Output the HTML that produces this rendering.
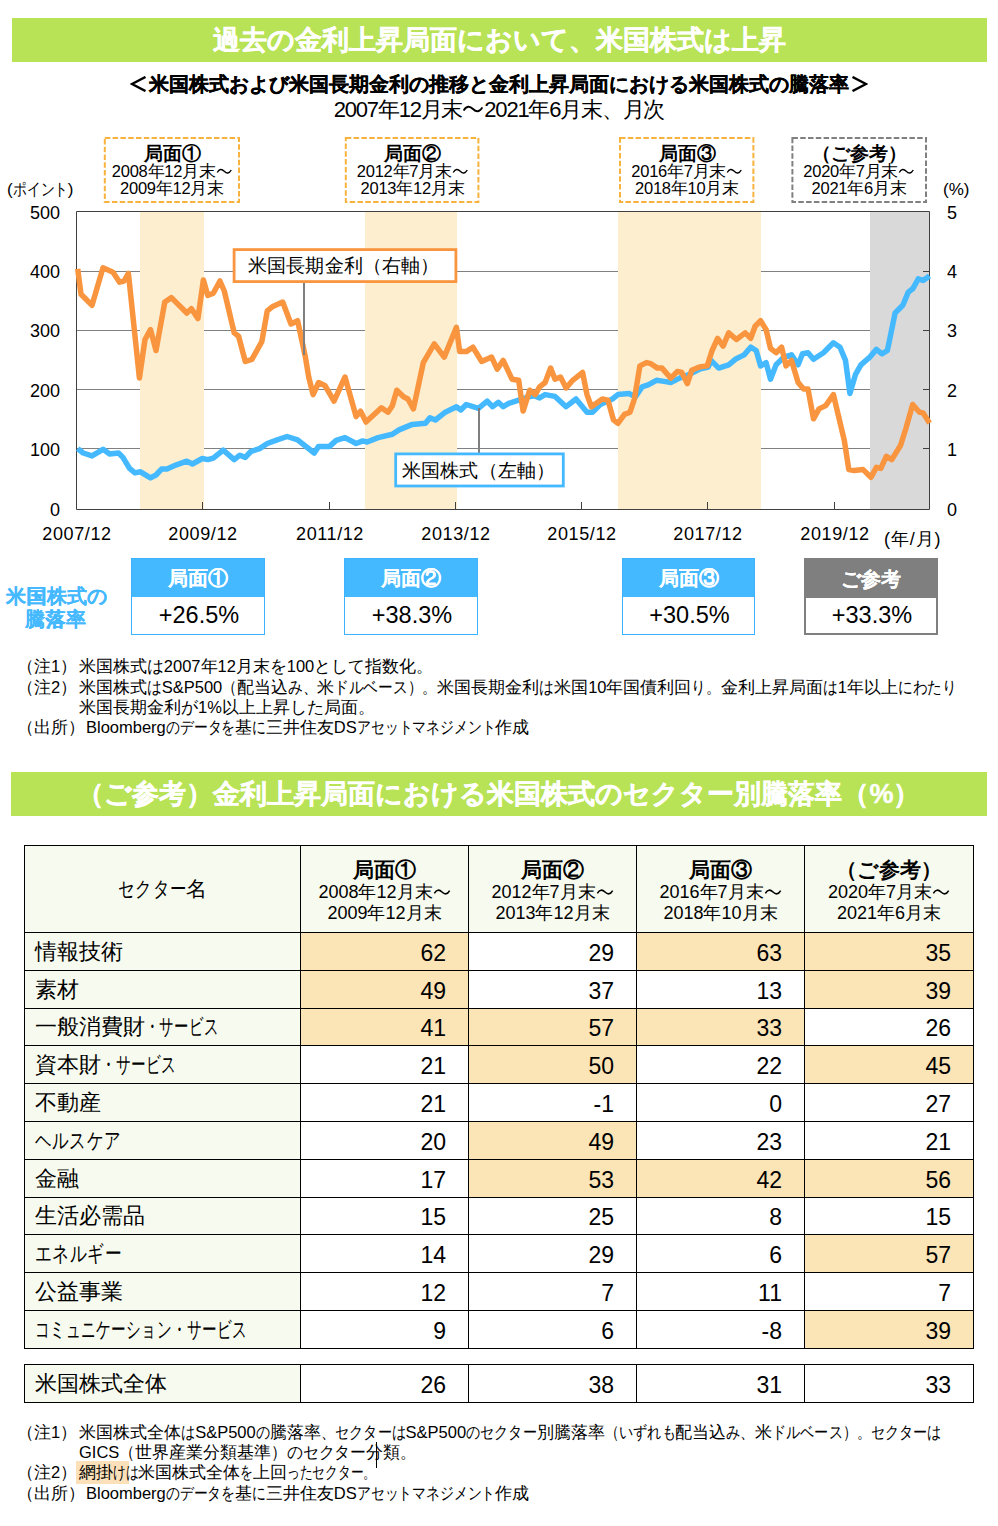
<!DOCTYPE html>
<html lang="ja"><head>
<meta charset="utf-8">
<style>
html,body{margin:0;padding:0;background:#fff;}
body{width:998px;height:1526px;position:relative;overflow:hidden;font-family:"Liberation Sans",sans-serif;color:#000;}
.a{position:absolute;white-space:nowrap;}
.c{text-align:center;}
.tl{width:1em;height:1em;vertical-align:-0.14em;}
.bar{position:absolute;background:#B8E356;color:#fff;font-weight:bold;text-align:center;-webkit-text-stroke:0.4px #fff;}
.dbox{position:absolute;box-sizing:border-box;text-align:center;font-size:16.5px;line-height:17px;letter-spacing:-0.25px;}
.dbox b{display:block;font-size:19px;line-height:20px;padding-top:7px;margin-bottom:-1px;letter-spacing:0;}
.rbox{position:absolute;box-sizing:border-box;border:1px solid #3DB3FF;background:#fff;}
.rbox .h{background:#45B9FF;color:#fff;font-weight:bold;text-align:center;font-size:20px;height:38px;line-height:38px;text-shadow:0.4px 0 0 #fff;}
.rbox .v{text-align:center;font-size:23.5px;height:37px;line-height:37px;padding-left:2px;}
.note{position:absolute;font-size:16.5px;line-height:21px;white-space:nowrap;}
table{position:absolute;border-collapse:collapse;font-size:21px;table-layout:fixed;}
td{border:1px solid #000;padding:0;height:37.8px;box-sizing:border-box;white-space:nowrap;overflow:hidden;}
td.n{text-align:right;padding-right:22px;padding-top:4px;font-size:23px;}
td.s{background:#F7FAEE;padding-left:10px;font-size:21.5px;}
td.o{background:#FBE4B6;}
</style>
</head>
<body>
<!-- header bar -->
<div class="bar" style="left:12px;top:18px;width:975px;height:44px;font-size:27px;line-height:44px;">過去の金利上昇局面において、米国株式は上昇</div>
<div class="a c" style="left:0;width:998px;top:72px;font-size:20px;line-height:24px;font-weight:bold;-webkit-text-stroke:0.25px #000;"><svg width="20" height="16" viewBox="0 0 20 16" style="vertical-align:-1px;margin-right:-1px"><path d="M15.5,1 L2,8 L15.5,15" fill="none" stroke="#000" stroke-width="2.5"></path></svg>米国株式および米国長期金利の推移と金利上昇局面における米国株式の騰落率<svg width="20" height="16" viewBox="0 0 20 16" style="vertical-align:-1px;margin-left:-1px"><path d="M4.5,1 L18,8 L4.5,15" fill="none" stroke="#000" stroke-width="2.5"></path></svg></div>
<div class="a c" style="left:0;width:998px;top:97px;font-size:22px;line-height:26px;letter-spacing:-1.2px;">2007年12月末<svg class="tl" viewBox="0 0 20 20"><path d="M1.5,11.5 C4,7 7,7 10,10 S16,13 18.5,8.5" fill="none" stroke="#000" stroke-width="1.7"></path></svg>2021年6月末、月次</div>

<!-- dashed boxes -->
<div class="dbox" style="left:104px;top:137px;width:136px;height:66px;"><b>局面①</b>2008年12月末<svg class="tl" viewBox="0 0 20 20"><path d="M1.5,11.5 C4,7 7,7 10,10 S16,13 18.5,8.5" fill="none" stroke="#000" stroke-width="1.7"></path></svg><br>2009年12月末</div>
<div class="dbox" style="left:345px;top:137px;width:135px;height:66px;"><b>局面②</b>2012年7月末<svg class="tl" viewBox="0 0 20 20"><path d="M1.5,11.5 C4,7 7,7 10,10 S16,13 18.5,8.5" fill="none" stroke="#000" stroke-width="1.7"></path></svg><br>2013年12月末</div>
<div class="dbox" style="left:619px;top:137px;width:136px;height:66px;"><b>局面③</b>2016年7月末<svg class="tl" viewBox="0 0 20 20"><path d="M1.5,11.5 C4,7 7,7 10,10 S16,13 18.5,8.5" fill="none" stroke="#000" stroke-width="1.7"></path></svg><br>2018年10月末</div>
<div class="dbox" style="left:791px;top:137px;width:136px;height:66px;"><b>（ご参考）</b>2020年7月末<svg class="tl" viewBox="0 0 20 20"><path d="M1.5,11.5 C4,7 7,7 10,10 S16,13 18.5,8.5" fill="none" stroke="#000" stroke-width="1.7"></path></svg><br>2021年6月末</div>

<!-- chart -->
<svg class="a" style="left:0;top:0" width="998" height="660" viewBox="0 0 998 660">
  <g stroke="#808080" stroke-width="1">
    <line x1="76.5" y1="271.5" x2="929.5" y2="271.5"></line>
    <line x1="76.5" y1="330.5" x2="929.5" y2="330.5"></line>
    <line x1="76.5" y1="389.5" x2="929.5" y2="389.5"></line>
    <line x1="76.5" y1="448.5" x2="929.5" y2="448.5"></line>
  </g>
  <g fill="none" stroke-width="2" stroke-dasharray="5.5 2.3">
    <rect x="104.8" y="138" width="134.2" height="64" stroke="#F8B33E"></rect>
    <rect x="345.8" y="138" width="132.6" height="64" stroke="#F8B33E"></rect>
    <rect x="620" y="138" width="133.4" height="64" stroke="#F8B33E"></rect>
    <rect x="792.4" y="138" width="133.6" height="64" stroke="#808080"></rect>
  </g>
  <rect x="140" y="212" width="64" height="297" fill="#FDEECF"></rect>
  <rect x="365" y="212" width="92" height="297" fill="#FDEECF"></rect>
  <rect x="618" y="212" width="143" height="297" fill="#FDEECF"></rect>
  <rect x="870" y="212" width="59" height="297" fill="#D9D9D9"></rect>
  <g stroke="#404040" stroke-width="1" fill="none">
    <path d="M76.5,509.5 V211.5 H929.5 V509.5 Z"></path>
    <path d="M202.5,509v-7 M329.5,509v-7 M455.5,509v-7 M581.5,509v-7 M707.5,509v-7 M834.5,509v-7"></path>
    <path d="M929,271.5h-6 M929,330.5h-6 M929,389.5h-6 M929,448.5h-6"></path>
  </g>
  <polyline points="77.7,448.6 83.2,453.0 92.0,455.9 103.0,449.3 109.7,454.1 118.5,453.0 122.9,457.4 129.5,468.4 135.0,472.9 140.5,471.8 150.5,477.9 156.0,475.0 161.5,469.1 167.0,469.1 175.8,465.1 186.8,461.2 192.4,464.0 202.3,458.5 207.8,459.6 213.3,458.1 223.2,450.1 234.2,459.6 239.8,455.2 245.3,457.4 250.8,451.5 259.6,448.6 267.3,443.5 277.2,439.8 287.1,436.5 297.6,439.8 314.2,453.0 318.6,446.4 329.6,446.4 336.2,440.4 345.0,437.6 356.1,443.5 362.7,440.9 367.1,442.0 378.1,437.6 392.4,434.3 399.0,429.9 412.3,424.4 425.5,423.3 429.9,417.7 435.4,420.0 445.3,412.2 456.4,406.7 460.8,410.0 466.3,404.5 478.4,408.3 487.2,401.2 492.7,406.7 498.3,402.3 503.2,406.7 508.7,403.4 518.7,400.1 528.6,396.8 534.1,395.7 539.6,397.9 545.1,394.6 555.0,396.4 566.1,406.7 576.0,399.0 587.0,412.2 592.5,412.2 600.2,404.5 612.4,399.0 617.9,394.6 628.9,393.5 635.5,396.8 642.1,386.9 648.7,384.7 656.4,380.3 664.2,381.4 670.8,382.5 679.6,378.1 688.4,374.7 699.4,369.2 708.3,367.0 711.0,360.4 718.7,368.1 728.7,364.8 735.3,359.3 744.1,354.9 750.7,347.2 756.2,350.5 760.6,366.0 766.1,362.6 770.5,379.2 776.1,364.8 783.8,357.1 791.5,354.9 798.1,364.8 802.5,353.8 808.0,352.7 813.5,359.3 823.5,352.7 833.4,342.8 840.0,347.2 845.5,360.4 849.9,393.5 855.4,374.7 860.9,364.8 869.8,357.1 876.4,349.4 881.9,353.8 887.4,350.5 895.1,313.0 902.8,305.3 908.3,292.1 912.7,288.8 918.3,278.9 923.1,280.5 929.5,276.1" fill="none" stroke="#45B9FF" stroke-width="5.5" stroke-linejoin="round" stroke-linecap="butt"></polyline>
  <polyline points="77.7,268.9 81.0,294.3 92.0,305.3 103.0,267.8 113.0,272.2 119.6,282.2 124.0,281.0 128.4,273.3 139.4,378.0 145.0,339.5 150.5,329.6 156.0,350.5 164.8,302.0 171.4,297.6 186.8,313.0 191.3,308.6 197.9,318.5 203.4,280.0 207.8,295.4 213.3,293.2 219.9,281.0 224.3,291.0 234.2,332.9 238.6,336.2 245.3,361.5 251.9,359.3 261.8,341.7 267.3,310.8 272.8,306.4 282.7,302.0 291.0,324.0 297.6,320.7 305.4,357.1 308.7,377.0 313.1,394.6 318.6,382.5 325.2,385.8 334.0,401.2 345.0,377.0 356.1,416.6 360.5,411.1 366.0,422.1 381.4,407.8 388.0,412.2 392.4,405.6 396.8,390.2 403.5,396.8 407.9,399.0 413.4,408.9 423.3,362.6 434.3,343.9 444.2,357.1 456.4,327.4 459.7,351.6 466.3,351.6 472.9,347.2 481.7,361.5 491.6,357.1 497.2,369.2 503.2,360.4 512.0,379.2 518.7,380.3 523.1,411.1 529.7,390.2 535.2,394.6 539.6,386.9 545.1,382.5 550.6,368.1 555.0,379.2 560.5,377.0 566.1,388.0 572.7,380.3 582.6,372.5 587.0,394.6 591.4,406.7 602.4,399.0 607.9,400.1 613.5,419.9 617.9,423.3 624.5,414.4 630.0,412.2 634.4,399.0 639.9,365.9 646.5,362.6 650.9,363.7 657.5,368.1 662.0,368.1 670.8,378.1 677.4,371.4 681.8,372.5 687.3,383.6 691.7,370.3 699.4,367.0 707.2,365.9 712.1,350.5 717.6,338.4 723.1,346.1 728.7,332.9 736.4,339.5 745.2,332.9 750.7,338.4 755.1,326.3 760.6,320.7 766.1,329.6 770.5,348.3 776.1,352.7 781.6,347.2 786.0,365.9 791.5,360.4 798.1,382.5 803.6,389.1 808.0,389.1 813.5,418.8 819.0,408.9 825.7,405.6 833.4,394.6 844.4,440.9 848.8,469.6 854.3,470.6 863.1,469.6 870.9,477.3 876.4,467.3 880.8,468.4 886.3,456.3 891.8,459.6 900.6,445.3 906.1,427.7 912.7,404.5 919.4,412.2 923.1,412.9 929.5,423.1" fill="none" stroke="#F9943F" stroke-width="5.5" stroke-linejoin="round" stroke-linecap="butt"></polyline>
  <line x1="304" y1="282" x2="304" y2="355" stroke="#7F7F7F" stroke-width="2"></line>
  <line x1="479" y1="408" x2="479" y2="453" stroke="#7F7F7F" stroke-width="2"></line>
  <rect x="234.1" y="249.6" width="221.8" height="32" fill="#fff" stroke="#F9943F" stroke-width="2.8"></rect>
  <rect x="395.7" y="453.9" width="167.6" height="32.1" fill="#fff" stroke="#45B9FF" stroke-width="2.8"></rect>
</svg>
<div class="a" style="left:248px;top:253px;font-size:19px;line-height:26px;letter-spacing:0.15px;">米国長期金利（右軸）</div>
<div class="a" style="left:402px;top:458px;font-size:19px;line-height:26px;letter-spacing:0.15px;">米国株式（左軸）</div>

<!-- axis labels -->
<div class="a" id="pt" style="left:7px;top:178px;font-size:17px;line-height:24px;">(<span class="k" style="display: inline-block; width: 55.2px;"><span style="display: inline-block; transform-origin: 0px 0px; transform: scaleX(0.8118);">ポイント</span></span>)</div>
<div class="a" style="left:943px;top:178px;font-size:17px;line-height:24px;">(%)</div>
<div class="a" style="left:0;width:60px;text-align:right;top:201px;font-size:18px;line-height:24px;">500</div>
<div class="a" style="left:0;width:60px;text-align:right;top:260px;font-size:18px;line-height:24px;">400</div>
<div class="a" style="left:0;width:60px;text-align:right;top:319px;font-size:18px;line-height:24px;">300</div>
<div class="a" style="left:0;width:60px;text-align:right;top:379px;font-size:18px;line-height:24px;">200</div>
<div class="a" style="left:0;width:60px;text-align:right;top:438px;font-size:18px;line-height:24px;">100</div>
<div class="a" style="left:0;width:60px;text-align:right;top:498px;font-size:18px;line-height:24px;">0</div>
<div class="a" style="left:947px;top:201px;font-size:18px;line-height:24px;">5</div>
<div class="a" style="left:947px;top:260px;font-size:18px;line-height:24px;">4</div>
<div class="a" style="left:947px;top:319px;font-size:18px;line-height:24px;">3</div>
<div class="a" style="left:947px;top:379px;font-size:18px;line-height:24px;">2</div>
<div class="a" style="left:947px;top:438px;font-size:18px;line-height:24px;">1</div>
<div class="a" style="left:947px;top:498px;font-size:18px;line-height:24px;">0</div>
<div class="a c" style="left:27px;width:100px;top:522px;font-size:18px;line-height:24px;letter-spacing:0.6px;">2007/12</div>
<div class="a c" style="left:153px;width:100px;top:522px;font-size:18px;line-height:24px;letter-spacing:0.6px;">2009/12</div>
<div class="a c" style="left:280px;width:100px;top:522px;font-size:18px;line-height:24px;letter-spacing:0.6px;">2011/12</div>
<div class="a c" style="left:406px;width:100px;top:522px;font-size:18px;line-height:24px;letter-spacing:0.6px;">2013/12</div>
<div class="a c" style="left:532px;width:100px;top:522px;font-size:18px;line-height:24px;letter-spacing:0.6px;">2015/12</div>
<div class="a c" style="left:658px;width:100px;top:522px;font-size:18px;line-height:24px;letter-spacing:0.6px;">2017/12</div>
<div class="a c" style="left:785px;width:100px;top:522px;font-size:18px;line-height:24px;letter-spacing:0.6px;">2019/12</div>
<div class="a" style="left:884px;top:527px;font-size:18px;line-height:24px;letter-spacing:0.9px;">(年/月)</div>

<!-- result boxes -->
<div class="a c" style="left:6px;width:99px;top:585px;font-size:19.5px;line-height:23px;font-weight:bold;color:#45B9FF;text-shadow:0.3px 0 0 #45B9FF;letter-spacing:0.3px;">米国株式の<br>騰落率</div>
<div class="rbox" style="left:131px;top:558px;width:134px;height:77px;"><div class="h">局面①</div><div class="v">+26.5%</div></div>
<div class="rbox" style="left:344px;top:558px;width:134px;height:77px;"><div class="h">局面②</div><div class="v">+38.3%</div></div>
<div class="rbox" style="left:622px;top:558px;width:133px;height:77px;"><div class="h">局面③</div><div class="v">+30.5%</div></div>
<div class="rbox" style="left:804px;top:558px;width:134px;height:77px;border:2px solid #7F7F7F;"><div class="h" style="background:#7F7F7F;height:38px;line-height:38px;">ご参考</div><div class="v" style="height:35px;line-height:35px;">+33.3%</div></div>

<!-- notes 1 -->
<div class="note" style="left:17px;top:656px;">（注1）</div>
<div class="note" id="n1" style="left:79px;top:656px;">米国株式<span class="k" style="display: inline-block; width: 16.83px;"><span style="display: inline-block; transform-origin: 0px 0px; transform: scaleX(0.9902);">は</span></span>2007年12月末<span class="k" style="display: inline-block; width: 16.83px;"><span style="display: inline-block; transform-origin: 0px 0px; transform: scaleX(0.9902);">を</span></span>100<span class="k" style="display: inline-block; width: 50.5px;"><span style="display: inline-block; transform-origin: 0px 0px; transform: scaleX(0.9902);">として</span></span>指数化<span class="k" style="display: inline-block; width: 16.83px;"><span style="display: inline-block; transform-origin: 0px 0px; transform: scaleX(0.9902);">。</span></span></div>
<div class="note" style="left:17px;top:677px;">（注2）</div>
<div class="note" id="n2" style="left:79px;top:677px;">米国株式<span class="k" style="display: inline-block; width: 14.72px;"><span style="display: inline-block; transform-origin: 0px 0px; transform: scaleX(0.8656);">は</span></span>S&amp;P500<span class="k" style="display: inline-block; width: 14.72px;"><span style="display: inline-block; transform-origin: 0px 0px; transform: scaleX(0.8656);">（</span></span>配当込<span class="k" style="display: inline-block; width: 29.43px;"><span style="display: inline-block; transform-origin: 0px 0px; transform: scaleX(0.8656);">み、</span></span>米<span class="k" style="display: inline-block; width: 103.01px;"><span style="display: inline-block; transform-origin: 0px 0px; transform: scaleX(0.8656);">ドルベース）。</span></span>米国長期金利<span class="k" style="display: inline-block; width: 14.72px;"><span style="display: inline-block; transform-origin: 0px 0px; transform: scaleX(0.8656);">は</span></span>米国10年国債利回<span class="k" style="display: inline-block; width: 29.43px;"><span style="display: inline-block; transform-origin: 0px 0px; transform: scaleX(0.8656);">り。</span></span>金利上昇局面<span class="k" style="display: inline-block; width: 14.72px;"><span style="display: inline-block; transform-origin: 0px 0px; transform: scaleX(0.8656);">は</span></span>1年以上<span class="k" style="display: inline-block; width: 58.86px;"><span style="display: inline-block; transform-origin: 0px 0px; transform: scaleX(0.8656);">にわたり</span></span></div>
<div class="note" id="n3" style="left:79px;top:697px;">米国長期金利<span class="k" style="display: inline-block; width: 17px;"><span style="display: inline-block; transform-origin: 0px 0px; transform: scaleX(1);">が</span></span>1%以上上昇<span class="k" style="display: inline-block; width: 34px;"><span style="display: inline-block; transform-origin: 0px 0px; transform: scaleX(1);">した</span></span>局面<span class="k" style="display: inline-block; width: 17px;"><span style="display: inline-block; transform-origin: 0px 0px; transform: scaleX(1);">。</span></span></div>
<div class="note" style="left:17px;top:717px;">（出所）</div>
<div class="note" id="n4" style="left:86px;top:717px;">Bloomberg<span class="k" style="display: inline-block; width: 69.19px;"><span style="display: inline-block; transform-origin: 0px 0px; transform: scaleX(0.814);">のデータを</span></span>基<span class="k" style="display: inline-block; width: 13.84px;"><span style="display: inline-block; transform-origin: 0px 0px; transform: scaleX(0.814);">に</span></span>三井住友DS<span class="k" style="display: inline-block; width: 138.37px;"><span style="display: inline-block; transform-origin: 0px 0px; transform: scaleX(0.814);">アセットマネジメント</span></span>作成</div>

<!-- section 2 -->
<div class="bar" style="left:11px;top:772px;width:976px;height:44px;font-size:27px;line-height:44px;">（ご参考）金利上昇局面における米国株式のセクター別騰落率（%）</div>

<table style="left:24px;top:845px;width:949px;">
<colgroup><col style="width:276px"><col style="width:168px"><col style="width:168px"><col style="width:168px"><col style="width:169px"></colgroup>
<tbody><tr style="height:87px;background:#F7FAEE;">
<td class="c" style="height:87px;"><span id="sh"><span class="k" style="display: inline-block; width: 68.34px;"><span style="display: inline-block; transform-origin: 0px 0px; transform: scaleX(0.7856);">セクター</span></span>名</span></td>
<td class="c" style="font-size:18px;line-height:21px;padding-top:5px;"><b style="font-size:21px;">局面①</b><br>2008年12月末<svg class="tl" viewBox="0 0 20 20"><path d="M1.5,11.5 C4,7 7,7 10,10 S16,13 18.5,8.5" fill="none" stroke="#000" stroke-width="1.7"></path></svg><br>2009年12月末</td>
<td class="c" style="font-size:18px;line-height:21px;padding-top:5px;"><b style="font-size:21px;">局面②</b><br>2012年7月末<svg class="tl" viewBox="0 0 20 20"><path d="M1.5,11.5 C4,7 7,7 10,10 S16,13 18.5,8.5" fill="none" stroke="#000" stroke-width="1.7"></path></svg><br>2013年12月末</td>
<td class="c" style="font-size:18px;line-height:21px;padding-top:5px;"><b style="font-size:21px;">局面③</b><br>2016年7月末<svg class="tl" viewBox="0 0 20 20"><path d="M1.5,11.5 C4,7 7,7 10,10 S16,13 18.5,8.5" fill="none" stroke="#000" stroke-width="1.7"></path></svg><br>2018年10月末</td>
<td class="c" style="font-size:18px;line-height:21px;padding-top:5px;"><b style="font-size:21px;">（ご参考）</b><br>2020年7月末<svg class="tl" viewBox="0 0 20 20"><path d="M1.5,11.5 C4,7 7,7 10,10 S16,13 18.5,8.5" fill="none" stroke="#000" stroke-width="1.7"></path></svg><br>2021年6月末</td>
</tr>
<tr><td class="s"><span id="s0">情報技術</span></td><td class="n o">62</td><td class="n">29</td><td class="n o">63</td><td class="n o">35</td></tr>
<tr><td class="s"><span id="s1">素材</span></td><td class="n o">49</td><td class="n">37</td><td class="n">13</td><td class="n o">39</td></tr>
<tr><td class="s"><span id="s2">一般消費財<span class="k" style="display: inline-block; width: 73.8px;"><span style="display: inline-block; transform-origin: 0px 0px; transform: scaleX(0.6531);">・サービス</span></span></span></td><td class="n o">41</td><td class="n o">57</td><td class="n o">33</td><td class="n">26</td></tr>
<tr><td class="s"><span id="s3">資本財<span class="k" style="display: inline-block; width: 75.3px;"><span style="display: inline-block; transform-origin: 0px 0px; transform: scaleX(0.6664);">・サービス</span></span></span></td><td class="n">21</td><td class="n o">50</td><td class="n">22</td><td class="n o">45</td></tr>
<tr><td class="s"><span id="s4">不動産</span></td><td class="n">21</td><td class="n">-1</td><td class="n">0</td><td class="n">27</td></tr>
<tr><td class="s"><span id="s5"><span class="k" style="display: inline-block; width: 86px;"><span style="display: inline-block; transform-origin: 0px 0px; transform: scaleX(0.7478);">ヘルスケア</span></span></span></td><td class="n">20</td><td class="n o">49</td><td class="n">23</td><td class="n">21</td></tr>
<tr><td class="s"><span id="s6">金融</span></td><td class="n">17</td><td class="n o">53</td><td class="n o">42</td><td class="n o">56</td></tr>
<tr><td class="s"><span id="s7">生活必需品</span></td><td class="n">15</td><td class="n">25</td><td class="n">8</td><td class="n">15</td></tr>
<tr><td class="s"><span id="s8"><span class="k" style="display: inline-block; width: 86.6px;"><span style="display: inline-block; transform-origin: 0px 0px; transform: scaleX(0.7596);">エネルギー</span></span></span></td><td class="n">14</td><td class="n">29</td><td class="n">6</td><td class="n o">57</td></tr>
<tr><td class="s"><span id="s9">公益事業</span></td><td class="n">12</td><td class="n">7</td><td class="n">11</td><td class="n">7</td></tr>
<tr><td class="s"><span id="s10"><span class="k" style="display: inline-block; width: 212.1px;"><span style="display: inline-block; transform-origin: 0px 0px; transform: scaleX(0.6649);">コミュニケーション・サービス</span></span></span></td><td class="n">9</td><td class="n">6</td><td class="n">-8</td><td class="n o">39</td></tr>
</tbody></table>
<table style="left:24px;top:1364px;width:949px;">
<colgroup><col style="width:276px"><col style="width:168px"><col style="width:168px"><col style="width:168px"><col style="width:169px"></colgroup>
<tbody><tr><td class="s"><span id="s11">米国株式全体</span></td><td class="n">26</td><td class="n">38</td><td class="n">31</td><td class="n">33</td></tr>
</tbody></table>

<!-- notes 2 -->
<div class="a" style="left:76px;top:1461px;width:53px;height:23px;background:#FBE0BA;"></div>
<div class="note" style="left:17px;top:1422px;">（注1）</div>
<div class="note" id="m1" style="left:79px;top:1422px;">米国株式全体<span class="k" style="display: inline-block; width: 14.13px;"><span style="display: inline-block; transform-origin: 0px 0px; transform: scaleX(0.8309);">は</span></span>S&amp;P500<span class="k" style="display: inline-block; width: 14.13px;"><span style="display: inline-block; transform-origin: 0px 0px; transform: scaleX(0.8309);">の</span></span>騰落率<span class="k" style="display: inline-block; width: 84.75px;"><span style="display: inline-block; transform-origin: 0px 0px; transform: scaleX(0.8309);">、セクターは</span></span>S&amp;P500<span class="k" style="display: inline-block; width: 70.63px;"><span style="display: inline-block; transform-origin: 0px 0px; transform: scaleX(0.8309);">のセクター</span></span>別騰落率<span class="k" style="display: inline-block; width: 70.63px;"><span style="display: inline-block; transform-origin: 0px 0px; transform: scaleX(0.8309);">（いずれも</span></span>配当込<span class="k" style="display: inline-block; width: 28.25px;"><span style="display: inline-block; transform-origin: 0px 0px; transform: scaleX(0.8309);">み、</span></span>米<span class="k" style="display: inline-block; width: 169.5px;"><span style="display: inline-block; transform-origin: 0px 0px; transform: scaleX(0.8309);">ドルベース）。セクターは</span></span></div>
<div class="note" id="m2" style="left:79px;top:1442px;">GICS<span class="k" style="display: inline-block; width: 15.88px;"><span style="display: inline-block; transform-origin: 0px 0px; transform: scaleX(0.9338);">（</span></span>世界産業分類基準<span class="k" style="display: inline-block; width: 95.25px;"><span style="display: inline-block; transform-origin: 0px 0px; transform: scaleX(0.9338);">）のセクター</span></span>分類<span class="k" style="display: inline-block; width: 15.88px;"><span style="display: inline-block; transform-origin: 0px 0px; transform: scaleX(0.9338);">。</span></span></div>
<div class="note" style="left:17px;top:1462px;">（注2）</div>
<div class="note" id="m3" style="left:79px;top:1462px;">網掛<span class="k" style="display: inline-block; width: 25.46px;"><span style="display: inline-block; transform-origin: 0px 0px; transform: scaleX(0.7488);">けは</span></span>米国株式全体<span class="k" style="display: inline-block; width: 12.73px;"><span style="display: inline-block; transform-origin: 0px 0px; transform: scaleX(0.7488);">を</span></span>上回<span class="k" style="display: inline-block; width: 89.11px;"><span style="display: inline-block; transform-origin: 0px 0px; transform: scaleX(0.7488);">ったセクター。</span></span></div>
<div class="note" style="left:17px;top:1483px;">（出所）</div>
<div class="note" id="m4" style="left:86px;top:1483px;">Bloomberg<span class="k" style="display: inline-block; width: 69.13px;"><span style="display: inline-block; transform-origin: 0px 0px; transform: scaleX(0.8132);">のデータを</span></span>基<span class="k" style="display: inline-block; width: 13.83px;"><span style="display: inline-block; transform-origin: 0px 0px; transform: scaleX(0.8132);">に</span></span>三井住友DS<span class="k" style="display: inline-block; width: 138.25px;"><span style="display: inline-block; transform-origin: 0px 0px; transform: scaleX(0.8132);">アセットマネジメント</span></span>作成</div>
<div class="a" style="left:376px;top:1442px;width:1px;height:26px;background:#000;"></div>


</body></html>
